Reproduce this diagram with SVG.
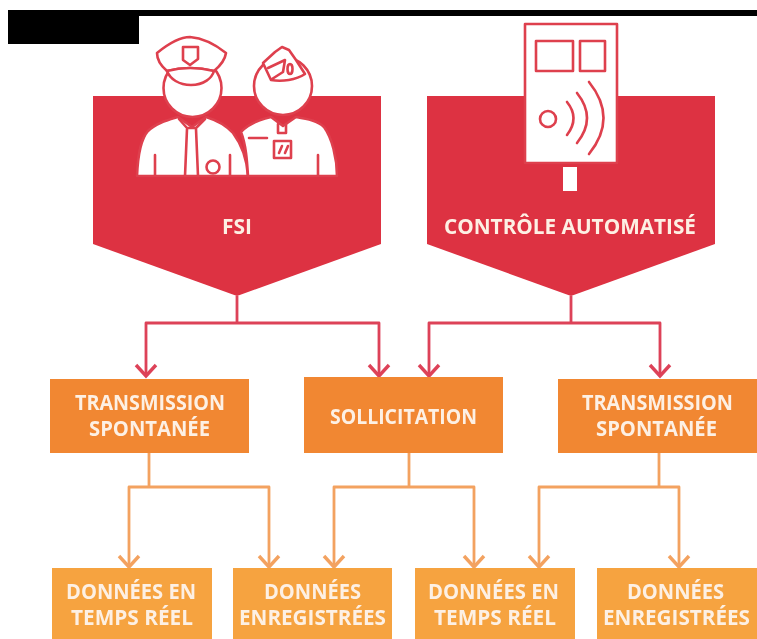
<svg xmlns="http://www.w3.org/2000/svg" width="757" height="639" viewBox="0 0 757 639">
<style>
.bg{fill:#fff}
.mask{fill:#000}
.pent{fill:#dd3142}
.ora{fill:#f18733}
.lor{fill:#f6a33f}
.ic{fill:#fff;stroke:#de3f4e;stroke-width:2.6;stroke-linejoin:round;stroke-linecap:round}
.il{fill:none;stroke:#de3f4e;stroke-width:2.6;stroke-linejoin:round;stroke-linecap:round}
.wh{fill:#fff}
.cr{fill:none;stroke:#dd4259;stroke-width:2.8;stroke-linejoin:round}
.co{fill:none;stroke:#f3a260;stroke-width:2.8;stroke-linejoin:round}
text{font-family:"Open Sans","Liberation Sans",sans-serif;font-weight:700;font-size:20.5px;fill:#fdf0e4;text-anchor:middle}
</style>
<defs>
<filter id="soft" x="-5%" y="-5%" width="110%" height="110%"><feGaussianBlur stdDeviation="0.7"/></filter>
<marker id="ar" markerUnits="userSpaceOnUse" markerWidth="30" markerHeight="30" refX="0" refY="0" viewBox="-15 -15 30 30" orient="auto" overflow="visible"><path d="M-11 -10L0 0L-11 10" fill="none" stroke="#dd4259" stroke-width="3.4"/></marker>
<marker id="ao" markerUnits="userSpaceOnUse" markerWidth="30" markerHeight="30" refX="0" refY="0" viewBox="-15 -15 30 30" orient="auto" overflow="visible"><path d="M-11 -10L0 0L-11 10" fill="none" stroke="#f3a260" stroke-width="3.4"/></marker>
</defs>
<rect class="bg" width="757" height="639"/>
<g filter="url(#soft)">
<g id="fsi">
<path class="pent" d="M93 96H381V244L237 296L93 244Z"/>
<g id="officer">
<path class="ic" d="M137 176C138 152 141 139 148 131C156 123 168 120 178 117L192 127L206 117C216 120 225 124 233 133C242 145 247 160 248 176Z"/>
<circle class="ic" cx="192.500" cy="88" r="29"/>
<path class="ic" d="M167 71C160 65 157 58 157 53C168 44 180 37 190 37C202 38 216 45 226 53C225 60 220 66 214 71C198 67 182 67 167 71Z"/>
<path class="ic" d="M167 71C182 67 198 67 214 71C212 78 204 85 191 85C179 85 170 79 167 71Z"/>
<path class="il" d="M183 47H198V59L190 65L183 60Z"/>
<path class="il" d="M187 129L185 176M196 129L198 176M155 155V176M230 155V176M179 119L187 128L196 128L205 119"/>
<circle class="il" cx="213" cy="167" r="6.500"/>
</g>
<g id="soldier">
<path class="ic" d="M241 132C248 124 258 120 271 117L283 126L296 117C308 119 318 121 324 127C332 138 337 158 337 176H248C247 160 246 145 241 132Z"/>
<circle class="ic" cx="283" cy="86" r="29"/>
<path class="ic" d="M263 63L275 52L282 47L289 50L296 60L305 74C296 80 282 82 271 80Z"/>
<path class="il" d="M268 68L285 60L283 72L272 79"/>
<ellipse class="il" cx="290" cy="69" rx="2.500" ry="5"/>
<path class="il" d="M249 138H267M318 155V176M278 124V133H286V124"/>
<rect class="il" x="274" y="141" width="17" height="17"/>
<path class="il" d="M279 153L282 146M285 153L288 146"/>
</g>
<text x="237" y="234" textLength="30" lengthAdjust="spacingAndGlyphs">FSI</text>
</g>
<g id="controle">
<path class="pent" d="M427 96H715V244L571 296L427 244Z"/>
<rect class="ic" x="525" y="24" width="92" height="139"/>
<rect class="il" x="536" y="41" width="37" height="30"/>
<rect class="il" x="580" y="41" width="25" height="30"/>
<circle class="il" cx="548" cy="119" r="8"/>
<path class="il" d="M567 102Q580 118 567 135M577 93Q597 118 577 143M589 82Q618 118 589 154"/>
<rect class="wh" x="563" y="167" width="14" height="24"/>
<text x="570" y="234" textLength="252" lengthAdjust="spacingAndGlyphs">CONTRÔLE AUTOMATISÉ</text>
</g>
<g id="connectors">
<path class="cr" d="M237 296V323"/>
<path class="cr" d="M237 323H146V376" marker-end="url(#ar)"/>
<path class="cr" d="M237 323H379V376" marker-end="url(#ar)"/>
<path class="cr" d="M571 296V323"/>
<path class="cr" d="M571 323H429V376" marker-end="url(#ar)"/>
<path class="cr" d="M571 323H660V376" marker-end="url(#ar)"/>
<path class="co" d="M149 453V487"/>
<path class="co" d="M149 487H129V567" marker-end="url(#ao)"/>
<path class="co" d="M149 487H269V567" marker-end="url(#ao)"/>
<path class="co" d="M409 453V487"/>
<path class="co" d="M409 487H334V567" marker-end="url(#ao)"/>
<path class="co" d="M409 487H474V567" marker-end="url(#ao)"/>
<path class="co" d="M659 453V487"/>
<path class="co" d="M659 487H539V567" marker-end="url(#ao)"/>
<path class="co" d="M659 487H679V567" marker-end="url(#ao)"/>
</g>
<g id="transmission-1"><rect class="ora" x="50" y="379" width="199" height="74"/>
<text x="150" y="410" textLength="150" lengthAdjust="spacingAndGlyphs">TRANSMISSION</text>
<text x="149.500" y="436" textLength="121" lengthAdjust="spacingAndGlyphs">SPONTANÉE</text></g>
<g id="sollicitation"><rect class="ora" x="304" y="377" width="199" height="76"/>
<text x="403.500" y="424" textLength="147" lengthAdjust="spacingAndGlyphs">SOLLICITATION</text></g>
<g id="transmission-2"><rect class="ora" x="558" y="379" width="199" height="74"/>
<text x="657.500" y="410" textLength="151" lengthAdjust="spacingAndGlyphs">TRANSMISSION</text>
<text x="656.500" y="436" textLength="121" lengthAdjust="spacingAndGlyphs">SPONTANÉE</text></g>
<g id="temps-reel-1"><rect class="lor" x="52" y="568" width="160" height="71"/>
<text x="131" y="599" textLength="130" lengthAdjust="spacingAndGlyphs">DONNÉES EN</text>
<text x="132" y="625" textLength="122" lengthAdjust="spacingAndGlyphs">TEMPS RÉEL</text></g>
<g id="enregistrees-1"><rect class="lor" x="233" y="568" width="159" height="71"/>
<text x="312.500" y="599" textLength="97" lengthAdjust="spacingAndGlyphs">DONNÉES</text>
<text x="312.500" y="625" textLength="147" lengthAdjust="spacingAndGlyphs">ENREGISTRÉES</text></g>
<g id="temps-reel-2"><rect class="lor" x="415" y="568" width="160" height="71"/>
<text x="493.500" y="599" textLength="131" lengthAdjust="spacingAndGlyphs">DONNÉES EN</text>
<text x="495" y="625" textLength="122" lengthAdjust="spacingAndGlyphs">TEMPS RÉEL</text></g>
<g id="enregistrees-2"><rect class="lor" x="597" y="568" width="160" height="71"/>
<text x="675.500" y="599" textLength="97" lengthAdjust="spacingAndGlyphs">DONNÉES</text>
<text x="676.500" y="625" textLength="147" lengthAdjust="spacingAndGlyphs">ENREGISTRÉES</text></g>
</g>
<path class="mask" d="M8 10H757V16H139V44H8Z"/>
</svg>
